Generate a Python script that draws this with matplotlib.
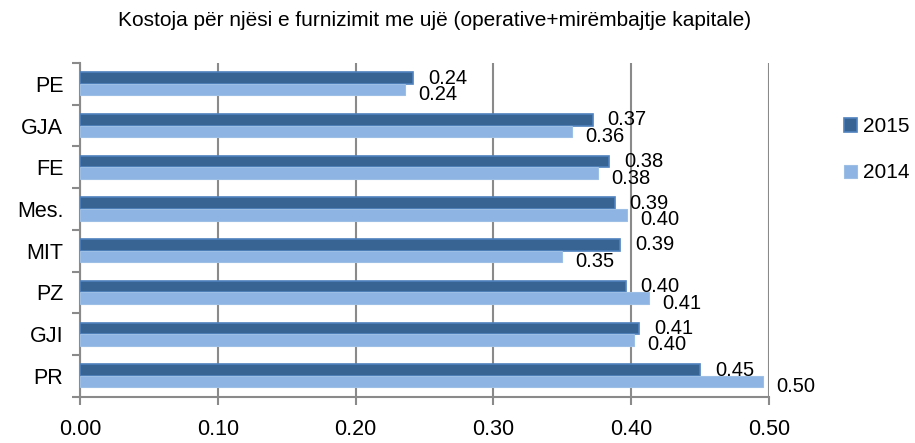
import numpy as np
import matplotlib
matplotlib.use("Agg")
import matplotlib.pyplot as plt
from matplotlib.patches import Patch

plt.rcParams['font.family'] = ['Liberation Sans', 'DejaVu Sans']

# ---- data ----
categories = ["PE", "GJA", "FE", "Mes.", "MIT", "PZ", "GJI", "PR"]
v2015 = [0.242, 0.372, 0.384, 0.388, 0.392, 0.396, 0.406, 0.450]
v2014 = [0.236, 0.357, 0.376, 0.397, 0.350, 0.413, 0.402, 0.496]
series_names = ["2015", "2014"]
x_ticks = [0.0, 0.1, 0.2, 0.3, 0.4, 0.5]
title = "Kostoja për njësi e furnizimit me ujë (operative+mirëmbajtje kapitale)"

DARK, DARK_EDGE = "#386493", "#4F81BD"
LIGHT, LIGHT_EDGE = "#8DB4E2", "#9DBFE6"
GRID = "#8A8A8A"

fig = plt.figure(figsize=(9.15, 4.43), dpi=100)
ax = fig.add_axes([0.0874, 0.1045, 0.7530, 0.7533])

y = np.arange(len(categories))
h = 0.276
ax.barh(y - h / 2, v2015, height=h, color=DARK, edgecolor=DARK_EDGE,
        linewidth=1.2, zorder=3)
ax.barh(y + h / 2, v2014, height=h, color=LIGHT, edgecolor=LIGHT_EDGE,
        linewidth=0.8, zorder=3)

# value labels (Excel-style, right of bar end)
for yi, v in zip(y, v2015):
    ax.annotate(f"{v:.2f}", (v, yi - h / 2), xytext=(15, 0),
                textcoords="offset pixels", va="center", ha="left", fontsize=14.5)
for yi, v in zip(y, v2014):
    ax.annotate(f"{v:.2f}", (v, yi + h / 2), xytext=(13, -5),
                textcoords="offset pixels", va="center", ha="left", fontsize=14.5)

ax.set_xlim(0, 0.5)
ax.set_ylim(len(categories) - 0.5, -0.5)
ax.set_xticks(x_ticks)
ax.set_xticklabels([f"{t:.2f}" for t in x_ticks], fontsize=15.5)
ax.set_yticks(y)
ax.set_yticklabels(categories, fontsize=15.5)
ax.set_yticks(np.arange(-0.5, len(categories)), minor=True)
ax.tick_params(axis="y", which="major", length=0, pad=12)
ax.tick_params(axis="y", which="minor", length=6, width=1.5, color=GRID)
ax.tick_params(axis="x", length=6, width=1.5, color=GRID, pad=10)

ax.grid(axis="x", color=GRID, linewidth=1.5, zorder=0)
for s in ["top", "right"]:
    ax.spines[s].set_visible(False)
for s in ["left", "bottom"]:
    ax.spines[s].set_color(GRID)
    ax.spines[s].set_linewidth(1.5)

fig.text(435 / 915, 1 - 20 / 443, title, ha="center", va="center", fontsize=15)

handles = [Patch(facecolor=DARK, edgecolor=DARK_EDGE, linewidth=1.2),
           Patch(facecolor=LIGHT, edgecolor=LIGHT_EDGE, linewidth=0.8)]
fig.legend(handles, series_names, loc="upper left",
           bbox_to_anchor=(834 / 915, 1 - 107 / 443), frameon=False,
           fontsize=15, handlelength=0.6, handleheight=0.6,
           handletextpad=0.3, labelspacing=1.3, borderpad=0)

fig.savefig("out.png", dpi=100)
